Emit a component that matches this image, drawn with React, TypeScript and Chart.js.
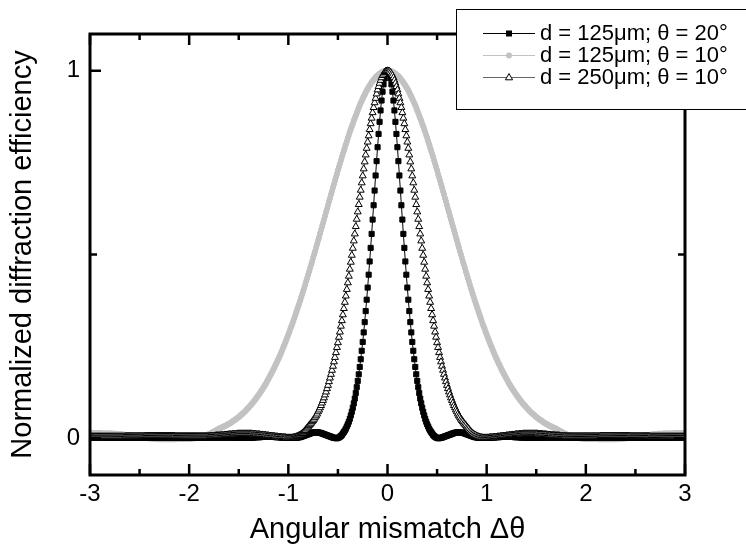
import { useEffect, useRef } from 'react';
import { Chart, registerables } from 'chart.js';

Chart.register(...registerables);

const FONT = "'Liberation Sans', Arial, sans-serif";

// x grid of the measurement: -3 .. 3 in steps of 0.01 (601 samples)
const angleStart = -3;
const angleStep = 0.01;

const xTickValues = [-3, -2, -1, 0, 1, 2, 3];
const xMinorTickValues = [-2.5, -1.5, -0.5, 0.5, 1.5, 2.5];
const yTickValues = [0, 1];
const yMinorTickValues = [0.5];

const seriesLabels = ['d = 125μm; θ = 20°', 'd = 125μm; θ = 10°', 'd = 250μm; θ = 10°'];
const xTitle = 'Angular mismatch Δθ';
const yTitle = 'Normalized diffraction efficiency';

// d = 125 µm, θ = 20° (black squares)
const black125at20 = [
  .002,
  .002,.002,.002,.002,.002,.002,.002,.002,.002,.002,
  .002,.002,.002,.002,.001,.001,.001,.001,.001,.001,
  .001,.001,.001,.001,.001,.001,.001,.001,.001,.001,
  .001,.001,.001,.001,.001,.001,.001,.001,.001,.001,
  .001,.001,.001,.001,.001,.001,.001,.001,.001,.001,
  .001,.001,.001,.001,.001,.002,.002,.002,.002,.002,
  .002,.002,.002,.002,.002,.002,.002,.002,.002,.002,
  .002,.002,.002,.002,.002,.002,.002,.002,.002,.002,
  .002,.002,.002,.002,.001,.001,.001,.001,.001,.001,
  .001,.001,.001,.001,.001,.001,.001,.001,.001,.001,
  .001,.001,.001,.001,.001,.001,.001,.001,.001,.001,
  .001,.001,.002,.002,.002,.002,.002,.002,.002,.002,
  .002,.002,.002,.002,.002,.002,.002,.002,.002,.002,
  .002,.002,.002,.002,.002,.002,.002,.002,.002,.002,
  .002,.002,.002,.001,.001,.001,.001,.001,.001,.001,
  .001,.001,.001,.001,.001,.001,.001,.001,.001,.001,
  .002,.002,.002,.002,.002,.002,.003,.003,.003,.003,
  .003,.003,.004,.004,.004,.004,.004,.004,.004,.004,
  .004,.004,.004,.004,.004,.004,.003,.003,.003,.003,
  .003,.002,.002,.002,.002,.002,.001,.001,.001,.001,
  .001,.001,.001,.001,.001,.001,.001,.001,.002,.002,
  .003,.003,.004,.005,.006,.007,.008,.009,.010,.011,
  .012,.013,.014,.015,.015,.016,.016,.016,.016,.016,
  .015,.015,.014,.013,.012,.011,.010,.009,.008,.007,
  .006,.005,.004,.003,.002,.001,.001,0,0,.001,
  .002,.004,.006,.009,.013,.017,.021,.026,.032,.038,
  .045,.053,.062,.072,.083,.095,.108,.123,.139,.156,
  .174,.194,.215,.238,.262,.288,.316,.346,.377,.410,
  .445,.481,.518,.556,.595,.634,.674,.715,.754,.792,
  .828,.861,.892,.919,.943,.963,.979,.991,.998,
  1,.998,.991,.979,.963,.943,.919,.892,.861,.828,
  .792,.754,.715,.674,.634,.595,.556,.518,.481,.445,
  .410,.377,.346,.316,.288,.262,.238,.215,.194,.174,
  .156,.139,.123,.108,.095,.083,.072,.062,.053,.045,
  .038,.032,.026,.021,.017,.013,.009,.006,.004,.002,
  .001,0,0,.001,.001,.002,.003,.004,.005,.006,
  .007,.008,.009,.010,.011,.012,.013,.014,.015,.015,
  .016,.016,.016,.016,.016,.015,.015,.014,.013,.012,
  .011,.010,.009,.008,.007,.006,.005,.004,.003,.003,
  .002,.002,.001,.001,.001,.001,.001,.001,.001,.001,
  .001,.001,.001,.001,.002,.002,.002,.002,.002,.003,
  .003,.003,.003,.003,.004,.004,.004,.004,.004,.004,
  .004,.004,.004,.004,.004,.004,.004,.004,.003,.003,
  .003,.003,.003,.003,.002,.002,.002,.002,.002,.002,
  .001,.001,.001,.001,.001,.001,.001,.001,.001,.001,
  .001,.001,.001,.001,.001,.001,.001,.002,.002,.002,
  .002,.002,.002,.002,.002,.002,.002,.002,.002,.002,
  .002,.002,.002,.002,.002,.002,.002,.002,.002,.002,
  .002,.002,.002,.002,.002,.002,.002,.002,.001,.001,
  .001,.001,.001,.001,.001,.001,.001,.001,.001,.001,
  .001,.001,.001,.001,.001,.001,.001,.001,.001,.001,
  .001,.001,.001,.001,.001,.001,.002,.002,.002,.002,
  .002,.002,.002,.002,.002,.002,.002,.002,.002,.002,
  .002,.002,.002,.002,.002,.002,.002,.002,.002,.002,
  .002,.002,.002,.002,.002,.001,.001,.001,.001,.001,
  .001,.001,.001,.001,.001,.001,.001,.001,.001,.001,
  .001,.001,.001,.001,.001,.001,.001,.001,.001,.001,
  .001,.001,.001,.001,.001,.001,.001,.001,.001,.001,
  .001,.001,.001,.001,.001,.001,.002,.002,.002,.002,
  .002,.002,.002,.002,.002,.002,.002,.002,.002,.002,
  .002,
];

// d = 125 µm, θ = 10° (grey circles)
const grey125at10 = [
  .015,
  .014,.014,.014,.014,.014,.014,.014,.014,.014,.014,
  .013,.013,.013,.013,.013,.013,.013,.013,.013,.013,
  .013,.013,.012,.012,.012,.012,.012,.011,.011,.011,
  .011,.010,.010,.010,.009,.009,.009,.008,.008,.008,
  .007,.007,.007,.006,.006,.005,.005,.005,.004,.004,
  .003,.003,.002,.002,.002,.001,.001,0,0,0,
  -.001,-.001,-.001,-.001,-.002,-.002,-.002,-.002,-.003,-.003,
  -.003,-.003,-.003,-.003,-.003,-.003,-.003,-.003,-.003,-.003,
  -.003,-.003,-.003,-.003,-.003,-.003,-.003,-.002,-.002,-.002,
  -.002,-.002,-.002,-.002,-.002,-.002,-.002,-.002,-.002,-.002,
  -.002,-.001,-.001,-.001,0,0,0,.001,.001,.002,
  .003,.003,.004,.005,.006,.007,.008,.009,.010,.011,
  .012,.014,.015,.017,.018,.020,.021,.023,.024,.026,
  .027,.028,.029,.031,.032,.033,.035,.036,.038,.039,
  .041,.042,.044,.046,.048,.050,.052,.054,.056,.058,
  .060,.063,.065,.067,.070,.072,.075,.078,.081,.084,
  .087,.090,.093,.096,.100,.103,.107,.110,.114,.118,
  .122,.126,.130,.134,.138,.143,.147,.152,.157,.162,
  .167,.172,.177,.182,.187,.193,.199,.204,.210,.216,
  .222,.228,.235,.241,.248,.254,.261,.268,.275,.282,
  .289,.297,.304,.311,.319,.327,.335,.343,.351,.359,
  .367,.375,.384,.392,.401,.409,.418,.427,.436,.445,
  .454,.463,.472,.481,.491,.500,.509,.519,.528,.538,
  .547,.557,.567,.576,.586,.595,.605,.615,.624,.634,
  .644,.653,.663,.672,.682,.691,.701,.710,.719,.729,
  .738,.747,.756,.765,.774,.783,.791,.800,.808,.817,
  .825,.833,.841,.849,.856,.864,.871,.878,.885,.892,
  .899,.906,.912,.918,.924,.930,.935,.941,.946,.951,
  .955,.960,.964,.968,.972,.975,.979,.982,.985,.987,
  .990,.992,.994,.995,.997,.998,.999,.999,1,
  1,1,.999,.999,.998,.997,.995,.994,.992,.990,
  .987,.985,.982,.979,.975,.972,.968,.964,.960,.955,
  .951,.946,.941,.935,.930,.924,.918,.912,.906,.899,
  .892,.885,.878,.871,.864,.856,.849,.841,.833,.825,
  .817,.808,.800,.791,.783,.774,.765,.756,.747,.738,
  .729,.719,.710,.701,.691,.682,.672,.663,.653,.644,
  .634,.624,.615,.605,.595,.586,.576,.567,.557,.547,
  .538,.528,.519,.509,.500,.491,.481,.472,.463,.454,
  .445,.436,.427,.418,.409,.401,.392,.384,.375,.367,
  .359,.351,.343,.335,.327,.319,.311,.304,.297,.289,
  .282,.275,.268,.261,.254,.248,.241,.235,.228,.222,
  .216,.210,.204,.199,.193,.187,.182,.177,.172,.167,
  .162,.157,.152,.147,.143,.138,.134,.130,.126,.122,
  .118,.114,.110,.107,.103,.100,.096,.093,.090,.087,
  .084,.081,.078,.075,.072,.070,.067,.065,.063,.060,
  .058,.056,.054,.052,.050,.048,.046,.044,.042,.041,
  .039,.038,.036,.035,.033,.032,.031,.029,.028,.027,
  .026,.024,.023,.021,.020,.018,.017,.015,.014,.012,
  .011,.010,.009,.008,.007,.006,.005,.004,.003,.003,
  .002,.001,.001,0,0,0,-.001,-.001,-.001,-.002,
  -.002,-.002,-.002,-.002,-.002,-.002,-.002,-.002,-.002,-.002,
  -.002,-.002,-.002,-.003,-.003,-.003,-.003,-.003,-.003,-.003,
  -.003,-.003,-.003,-.003,-.003,-.003,-.003,-.003,-.003,-.003,
  -.003,-.003,-.002,-.002,-.002,-.002,-.001,-.001,-.001,-.001,
  0,0,0,.001,.001,.002,.002,.002,.003,.003,
  .004,.004,.005,.005,.005,.006,.006,.007,.007,.007,
  .008,.008,.008,.009,.009,.009,.010,.010,.010,.011,
  .011,.011,.011,.012,.012,.012,.012,.012,.013,.013,
  .013,.013,.013,.013,.013,.013,.013,.013,.013,.013,
  .014,.014,.014,.014,.014,.014,.014,.014,.014,.014,
  .015,
];

// d = 250 µm, θ = 10° (open triangles)
const triangle250at10 = [
  .004,
  .004,.004,.004,.004,.004,.004,.004,.004,.004,.004,
  .004,.004,.004,.004,.004,.004,.004,.004,.004,.004,
  .004,.004,.004,.004,.004,.004,.004,.004,.004,.004,
  .004,.004,.004,.004,.004,.005,.005,.005,.005,.005,
  .005,.005,.005,.005,.005,.005,.005,.005,.005,.005,
  .005,.005,.005,.005,.005,.006,.006,.006,.006,.006,
  .006,.006,.006,.006,.006,.006,.006,.006,.006,.006,
  .006,.006,.006,.006,.006,.006,.006,.006,.006,.006,
  .006,.006,.006,.006,.006,.005,.005,.005,.005,.005,
  .005,.005,.005,.005,.005,.005,.005,.005,.005,.005,
  .005,.005,.005,.005,.005,.005,.005,.005,.005,.005,
  .005,.005,.005,.005,.005,.005,.005,.005,.005,.005,
  .006,.006,.006,.006,.006,.006,.007,.007,.007,.007,
  .007,.008,.008,.008,.008,.009,.009,.009,.009,.010,
  .010,.010,.010,.011,.011,.011,.011,.011,.012,.012,
  .012,.012,.012,.012,.012,.012,.012,.012,.012,.012,
  .012,.012,.012,.011,.011,.011,.011,.010,.010,.010,
  .010,.009,.009,.009,.008,.008,.008,.007,.007,.007,
  .006,.006,.006,.005,.005,.005,.004,.004,.004,.003,
  .003,.003,.003,.002,.002,.002,.002,.001,.001,.001,
  .001,.001,.001,.001,.002,.002,.003,.004,.005,.006,
  .008,.009,.011,.013,.015,.018,.021,.025,.028,.031,
  .035,.038,.041,.045,.048,.052,.057,.061,.066,.072,
  .077,.083,.089,.096,.103,.110,.118,.126,.135,.144,
  .154,.164,.174,.185,.196,.208,.220,.233,.247,.260,
  .275,.289,.305,.320,.336,.353,.370,.387,.405,.423,
  .441,.460,.479,.498,.517,.537,.556,.576,.596,.616,
  .636,.656,.675,.695,.714,.733,.752,.771,.789,.806,
  .823,.840,.856,.871,.886,.900,.913,.925,.937,.948,
  .957,.966,.974,.981,.987,.991,.995,.998,.999,
  1,.999,.998,.995,.991,.987,.981,.974,.966,.957,
  .948,.937,.925,.913,.900,.886,.871,.856,.840,.823,
  .806,.789,.771,.752,.733,.714,.695,.675,.656,.636,
  .616,.596,.576,.556,.537,.517,.498,.479,.460,.441,
  .423,.405,.387,.370,.353,.336,.320,.305,.289,.275,
  .260,.247,.233,.220,.208,.196,.185,.174,.164,.154,
  .144,.135,.126,.118,.110,.103,.096,.089,.083,.077,
  .072,.066,.061,.057,.052,.048,.045,.041,.038,.035,
  .031,.028,.025,.021,.018,.015,.013,.011,.009,.008,
  .006,.005,.004,.003,.002,.002,.001,.001,.001,.001,
  .001,.001,.001,.002,.002,.002,.002,.003,.003,.003,
  .003,.004,.004,.004,.005,.005,.005,.006,.006,.006,
  .007,.007,.007,.008,.008,.008,.009,.009,.009,.010,
  .010,.010,.010,.011,.011,.011,.011,.012,.012,.012,
  .012,.012,.012,.012,.012,.012,.012,.012,.012,.012,
  .012,.012,.011,.011,.011,.011,.011,.010,.010,.010,
  .010,.009,.009,.009,.009,.008,.008,.008,.008,.007,
  .007,.007,.007,.007,.006,.006,.006,.006,.006,.006,
  .005,.005,.005,.005,.005,.005,.005,.005,.005,.005,
  .005,.005,.005,.005,.005,.005,.005,.005,.005,.005,
  .005,.005,.005,.005,.005,.005,.005,.005,.005,.005,
  .005,.005,.005,.005,.005,.006,.006,.006,.006,.006,
  .006,.006,.006,.006,.006,.006,.006,.006,.006,.006,
  .006,.006,.006,.006,.006,.006,.006,.006,.006,.006,
  .006,.006,.006,.006,.006,.005,.005,.005,.005,.005,
  .005,.005,.005,.005,.005,.005,.005,.005,.005,.005,
  .005,.005,.005,.005,.005,.004,.004,.004,.004,.004,
  .004,.004,.004,.004,.004,.004,.004,.004,.004,.004,
  .004,.004,.004,.004,.004,.004,.004,.004,.004,.004,
  .004,.004,.004,.004,.004,.004,.004,.004,.004,.004,
  .004,
];

const GREY = '#c2c2c2';
const TRI_LINE = '#666666';

function toPoints(values: number[]) {
  return values.map((y, i) => ({ x: Math.round((angleStart + i * angleStep) * 100) / 100, y }));
}

const framePlugin = {
  id: 'framePlugin',
  afterDatasetsDraw(chart: any) {
    const { ctx, chartArea: a, scales } = chart;
    const xs = scales.x;
    const ys = scales.y;
    ctx.save();
    ctx.strokeStyle = '#000';
    ctx.lineCap = 'butt';
    const seg = (x1: number, y1: number, x2: number, y2: number) => {
      ctx.beginPath();
      ctx.moveTo(x1, y1);
      ctx.lineTo(x2, y2);
      ctx.stroke();
    };
    ctx.lineWidth = 2.5;
    xTickValues.forEach((v) => {
      const px = xs.getPixelForValue(v);
      seg(px, a.bottom, px, a.bottom - 11);
      seg(px, a.top, px, a.top + 11);
    });
    xMinorTickValues.forEach((v) => {
      const px = xs.getPixelForValue(v);
      seg(px, a.bottom, px, a.bottom - 6);
      seg(px, a.top, px, a.top + 6);
    });
    yTickValues.forEach((v) => {
      const py = ys.getPixelForValue(v);
      seg(a.left, py, a.left + 11, py);
      seg(a.right, py, a.right - 11, py);
    });
    yMinorTickValues.forEach((v) => {
      const py = ys.getPixelForValue(v);
      seg(a.left, py, a.left + 7, py);
      seg(a.right, py, a.right - 7, py);
    });
    ctx.lineWidth = 3;
    ctx.strokeRect(a.left, a.top, a.right - a.left, a.bottom - a.top);
    ctx.restore();
  },
};

const legendPlugin = {
  id: 'legendPlugin',
  afterDraw(chart: any) {
    const { ctx } = chart;
    ctx.save();
    ctx.fillStyle = '#fff';
    ctx.fillRect(456, 9, 300, 101);
    ctx.strokeStyle = '#000';
    ctx.lineWidth = 1;
    ctx.strokeRect(456.5, 9.5, 300, 100);
    const rows = [33, 55, 77];
    const lineColors = ['#000', GREY, TRI_LINE];
    rows.forEach((y, i) => {
      ctx.strokeStyle = lineColors[i];
      ctx.lineWidth = 1;
      ctx.beginPath();
      ctx.moveTo(483, y + 0.5);
      ctx.lineTo(535, y + 0.5);
      ctx.stroke();
      const mx = 509;
      if (i === 0) {
        ctx.fillStyle = '#000';
        ctx.fillRect(mx - 3, y - 2.5, 6, 6);
      } else if (i === 1) {
        ctx.fillStyle = GREY;
        ctx.beginPath();
        ctx.arc(mx, y + 0.5, 3, 0, Math.PI * 2);
        ctx.fill();
      } else {
        ctx.fillStyle = '#fff';
        ctx.strokeStyle = '#000';
        ctx.beginPath();
        ctx.moveTo(mx, y - 3.5);
        ctx.lineTo(mx + 3.6, y + 2.8);
        ctx.lineTo(mx - 3.6, y + 2.8);
        ctx.closePath();
        ctx.fill();
        ctx.stroke();
      }
      ctx.fillStyle = '#000';
      ctx.font = `22px ${FONT}`;
      ctx.textBaseline = 'middle';
      ctx.textAlign = 'left';
      ctx.fillText(seriesLabels[i], 540, y + 1);
    });
    ctx.restore();
  },
};

export default function App() {
  const canvasRef = useRef<HTMLCanvasElement | null>(null);

  useEffect(() => {
    const canvas = canvasRef.current;
    if (!canvas) return;
    const chart = new Chart(canvas, {
      type: 'line',
      data: {
        datasets: [
          {
            label: seriesLabels[2],
            data: toPoints(triangle250at10),
            order: 0,
            borderColor: TRI_LINE,
            borderWidth: 1,
            pointStyle: 'triangle',
            pointRadius: 4,
            pointBackgroundColor: '#fff',
            pointBorderColor: '#000',
            pointBorderWidth: 1,
            tension: 0,
          },
          {
            label: seriesLabels[0],
            data: toPoints(black125at20),
            order: 1,
            borderColor: '#000',
            borderWidth: 1,
            pointStyle: 'rect',
            pointRadius: 3.6,
            pointBackgroundColor: '#000',
            pointBorderColor: '#000',
            pointBorderWidth: 1,
            tension: 0,
          },
          {
            label: seriesLabels[1],
            data: toPoints(grey125at10),
            order: 2,
            borderColor: GREY,
            borderWidth: 1,
            pointStyle: 'circle',
            pointRadius: 3,
            pointBackgroundColor: GREY,
            pointBorderColor: GREY,
            pointBorderWidth: 0,
            tension: 0,
          },
        ],
      },
      options: {
        responsive: false,
        animation: false,
        devicePixelRatio: 1,
        layout: { padding: { top: 34, right: 61, left: 0, bottom: 0 } },
        plugins: { legend: { display: false }, tooltip: { enabled: false } },
        scales: {
          x: {
            type: 'linear',
            min: -3,
            max: 3,
            afterBuildTicks: (scale: any) => {
              scale.ticks = xTickValues.map((v) => ({ value: v }));
            },
            afterFit: (scale: any) => {
              scale.height = 75;
            },
            grid: { display: false, drawTicks: false },
            border: { display: false },
            ticks: {
              color: '#000',
              font: { size: 24, family: FONT },
              padding: 5,
              maxRotation: 0,
              autoSkip: false,
            },
            title: {
              display: true,
              text: xTitle,
              color: '#000',
              font: { size: 29, family: FONT },
              padding: { top: 3, bottom: 3 },
            },
          },
          y: {
            type: 'linear',
            min: -0.1,
            max: 1.1,
            afterBuildTicks: (scale: any) => {
              scale.ticks = yTickValues.map((v) => ({ value: v }));
            },
            afterFit: (scale: any) => {
              scale.width = 90;
            },
            grid: { display: false, drawTicks: false },
            border: { display: false },
            ticks: {
              color: '#000',
              font: { size: 24, family: FONT },
              padding: 10,
            },
            title: {
              display: true,
              text: yTitle,
              color: '#000',
              font: { size: 29, family: FONT },
              padding: { top: 6, bottom: 6 },
            },
          },
        },
      },
      plugins: [framePlugin, legendPlugin],
    });
    return () => chart.destroy();
  }, []);

  return (
    <div style={{ position: 'absolute', left: 0, top: 0, width: 746, height: 550, background: '#fff' }}>
      <canvas ref={canvasRef} width={746} height={550} style={{ display: 'block' }} />
    </div>
  );
}
